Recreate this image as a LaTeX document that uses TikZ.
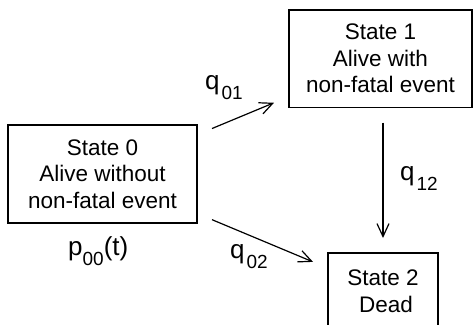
\documentclass[tikz,border=0pt]{standalone}
\usepackage{fontspec}
\setmainfont{Liberation Sans}
\usepackage{tikz}
\usetikzlibrary{arrows.meta,positioning}

\newcommand{\rlab}[2]{#1\hspace{2pt}\raisebox{-10pt}{\fontsize{19}{19}\selectfont #2}}

\begin{document}
\begin{tikzpicture}[
    x=1pt, y=-1pt,
    box/.style={draw, line width=1.2pt, inner sep=0pt, outer sep=15pt, align=center, font=\fontsize{22.5}{26.5}\selectfont},
    lab/.style={anchor=base west, inner sep=0pt, font=\fontsize{26}{26}\selectfont},
    arr/.style={-{Straight Barb[length=13pt,width=12pt]}, line width=1.2pt}
]
\useasboundingbox (0,0) rectangle (473,324);

\node[box, minimum width=189pt, minimum height=98pt] (s0) at (102.5,174) {State 0\\Alive without\\non-fatal event};
\node[box, minimum width=183pt, minimum height=97.5pt] (s1) at (380.5,58.75) {State 1\\Alive with\\non-fatal event};
\node[box, minimum width=110pt, minimum height=76pt] (s2) at (383,291) {State 2\\\hspace*{6pt}Dead};

\draw[arr] (s0) -- (s1);
\draw[arr] (s0) -- (s2);
\draw[arr] (s1.south -| s2.north) -- (s2.north);

\node[lab] (l01) at (205,89) {\rlab{q}{01}};
\node[lab] (l12) at (400,180) {\rlab{q}{12}};
\node[lab] (l02) at (230,258) {\rlab{q}{02}};
\node[lab] (p00) at (68,255) {p\raisebox{-10pt}{\fontsize{19}{19}\selectfont 00}(t)};
\end{tikzpicture}
\end{document}
